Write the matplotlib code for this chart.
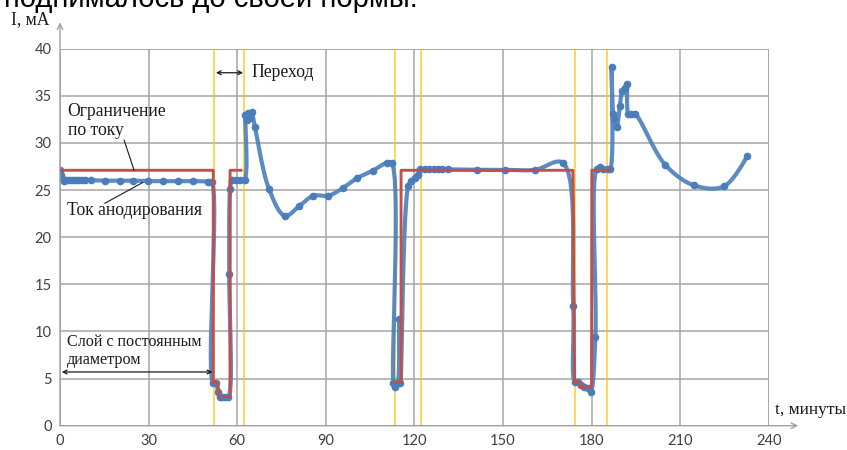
import numpy as np
import matplotlib.pyplot as plt

# measured anodizing current (blue, with markers), minutes / mA
t_cur = [0, 0.3, 0.7, 1.2, 1.7, 2.5, 3.5, 4.5, 5.5, 6.5, 7.5, 8.5, 10.5,
         15.2, 20.3, 24.8, 29.9, 35.0, 40.0, 45.1, 50.2, 51.4,
         51.8, 52.8, 53.5, 54.2, 55.0, 56.0, 57.0,
         57.3, 57.6, 58.2, 59.5, 61.0, 62.5,
         62.8, 63.3, 63.8, 64.3, 64.9, 66.0,
         70.8, 76.2, 81.0, 85.8, 90.9, 95.7, 100.5, 105.9, 110.6, 112.3,
         112.9, 113.3, 114.3, 114.9, 115.3, 117.9, 119.0, 120.2, 121.3, 122.0,
         123.5, 125.0, 126.5, 128.0, 129.5, 131.4, 141.1, 150.7, 160.9, 170.3,
         173.8, 174.4, 175.5, 176.5, 177.5, 178.7, 179.7,
         181.3, 181.7, 182.9, 184.0, 185.5, 186.3,
         186.8, 187.2, 187.6, 188.5, 189.6, 190.4, 191.3, 191.9, 192.5, 193.5, 194.7,
         204.9, 214.7, 224.9, 232.7]
i_cur = [27.1, 26.6, 26.2, 26.0, 26.1, 26.1, 26.1, 26.1, 26.1, 26.1, 26.1, 26.1, 26.05,
         26.0, 26.0, 26.0, 25.95, 25.95, 25.95, 25.95, 25.9, 25.9,
         4.5, 4.5, 3.6, 3.0, 3.0, 3.0, 3.0,
         16.1, 25.1, 26.1, 26.1, 26.1, 26.1,
         33.0, 32.4, 33.2, 32.6, 33.3, 31.7,
         25.1, 22.25, 23.3, 24.4, 24.4, 25.2, 26.25, 27.06, 27.9, 27.9,
         4.5, 4.1, 4.5, 11.3, 4.5, 25.4, 26.0, 26.3, 26.6, 27.2,
         27.2, 27.2, 27.2, 27.2, 27.2, 27.2, 27.15, 27.15, 27.15, 27.9,
         12.7, 4.6, 4.6, 4.3, 4.1, 4.0, 3.6,
         9.4, 27.2, 27.4, 27.2, 27.2, 27.2,
         38.1, 33.1, 32.5, 31.7, 33.9, 35.5, 35.8, 36.3, 33.1, 33.1, 33.1,
         27.7, 25.5, 25.4, 28.6]

# current limit set on the supply (red), two pieces
t_lim1 = [0, 51.9, 51.9, 53.3, 54.0, 57.6, 57.6, 61.3]
i_lim1 = [27.1, 27.1, 4.6, 4.6, 3.1, 3.1, 27.1, 27.1]
t_lim2 = [113.3, 115.5, 115.5, 173.7, 174.3, 176.0, 176.0, 180.0, 180.1, 186.5]
i_lim2 = [4.6, 4.6, 27.1, 27.1, 4.6, 4.6, 4.1, 4.1, 27.1, 27.1]

# transition boundaries
t_marks = [52.2, 62.4, 113.4, 122.1, 174.5, 185.1]

x_ticks = [0, 30, 60, 90, 120, 150, 180, 210, 240]
y_ticks = [0, 5, 10, 15, 20, 25, 30, 35, 40]


def smooth_line(xs, ys, yk=3.19, n=14):
    # centripetal Catmull-Rom through the points, like a smoothed scatter line
    p = np.column_stack([np.asarray(xs, float), np.asarray(ys, float) * yk])
    p = np.vstack([p[0], p, p[-1]])
    out = []
    for k in range(1, len(p) - 2):
        p0, p1, p2, p3 = p[k - 1], p[k], p[k + 1], p[k + 2]
        def nxt(ti, a, b):
            return ti + max(np.linalg.norm(b - a), 1e-6) ** 0.5
        t0 = 0.0
        t1 = nxt(t0, p0, p1)
        t2 = nxt(t1, p1, p2)
        t3 = nxt(t2, p2, p3)
        tt = np.linspace(t1, t2, n)[:, None]
        a1 = (t1 - tt) / (t1 - t0) * p0 + (tt - t0) / (t1 - t0) * p1
        a2 = (t2 - tt) / (t2 - t1) * p1 + (tt - t1) / (t2 - t1) * p2
        a3 = (t3 - tt) / (t3 - t2) * p2 + (tt - t2) / (t3 - t2) * p3
        b1 = (t2 - tt) / (t2 - t0) * a1 + (tt - t0) / (t2 - t0) * a2
        b2 = (t3 - tt) / (t3 - t1) * a2 + (tt - t1) / (t3 - t1) * a3
        c = (t2 - tt) / (t2 - t1) * b1 + (tt - t1) / (t2 - t1) * b2
        out.append(c)
    c = np.vstack(out)
    return c[:, 0], c[:, 1] / yk


fig = plt.figure(figsize=(8.47, 4.5), dpi=100)
ax = fig.add_axes([60 / 847, 24.3 / 450, 708.7 / 847, 377 / 450])

grid_c = '#a6a6a6'
ax.set_xlim(0, 240)
ax.set_ylim(0, 40)
ax.set_xticks(x_ticks)
ax.set_yticks(y_ticks)
ax.grid(True, color=grid_c, lw=1.1)
ax.set_axisbelow(True)
for s in ax.spines.values():
    s.set_visible(False)
ax.axvline(240, color=grid_c, lw=1.1, zorder=0.5)
ax.axhline(40, color=grid_c, lw=1.1, zorder=0.5)
ax.tick_params(length=0, pad=6, labelsize=10.5, labelcolor='#404040')
for lab in ax.get_xticklabels() + ax.get_yticklabels():
    lab.set_fontfamily('Lato')

# axis arrows
ax.annotate('', xy=(0, 42.8), xytext=(0, 0), xycoords='data',
            arrowprops=dict(arrowstyle='->', color='#a0a0a0', lw=1.0,
                            shrinkA=0, shrinkB=0), annotation_clip=False)
ax.annotate('', xy=(250, 0), xytext=(0, 0),
            arrowprops=dict(arrowstyle='->', color='#a0a0a0', lw=1.0,
                            shrinkA=0, shrinkB=0), annotation_clip=False)

for t in t_marks:
    ax.axvline(t, color='#ffc000', lw=1.3, alpha=0.7, zorder=1)

sx, sy = smooth_line(t_cur, i_cur)
ax.plot(sx, sy, color='#4a7ebb', lw=3, alpha=0.9, zorder=2, solid_capstyle='round')
ax.plot(t_cur, i_cur, 'o', color='#4a7ebb', ms=4.5, zorder=2)
ax.plot(t_lim1, i_lim1, color='#c0504d', lw=2.1, zorder=3)
ax.plot(t_lim2, i_lim2, color='#c0504d', lw=2.1, zorder=3)

serif = 'Liberation Serif'
txt = dict(family=serif, fontsize=12.7, color='#1a1a1a')
ax.text(2.6, 32.3, 'Ограничение\nпо току', va='center', linespacing=1.15, **txt)
ax.text(2.4, 22.85, 'Ток анодирования', va='center', **txt)
ax.text(64.8, 37.45, 'Переход', va='center', **txt)
ax.text(2.3, 7.95, 'Слой с постоянным\nдиаметром', va='center', linespacing=1.15,
        family=serif, fontsize=11.6, color='#1a1a1a')

ax.plot([21.7, 25.1], [30.3, 27.1], color='#1a1a1a', lw=0.8, zorder=4)
ax.plot([15.2, 28.0], [23.6, 25.8], color='#1a1a1a', lw=0.8, zorder=4)

arr = dict(arrowstyle='<->', color='#1a1a1a', lw=0.9, shrinkA=0, shrinkB=0,
           mutation_scale=7)
ax.annotate('', xy=(52.8, 37.45), xytext=(62.0, 37.45), arrowprops=arr, zorder=5)
ax.annotate('', xy=(0.6, 5.7), xytext=(51.6, 5.7), arrowprops=arr, zorder=5)

fig.text(11 / 847, 1 - 20 / 450, 'I, мА', family=serif, fontsize=12.7,
         va='center', color='#1a1a1a')
fig.text(775 / 847, 1 - 410 / 450, 't, минуты', family=serif, fontsize=12.5,
         va='center', color='#1a1a1a')

# tail of the preceding paragraph, cut at the top edge
fig.text(4 / 847, 1 - 7 / 450, 'поднималось до своей нормы.',
         family='Liberation Sans', fontsize=21, va='baseline', color='#000000')

fig.savefig('out.png', dpi=100)
